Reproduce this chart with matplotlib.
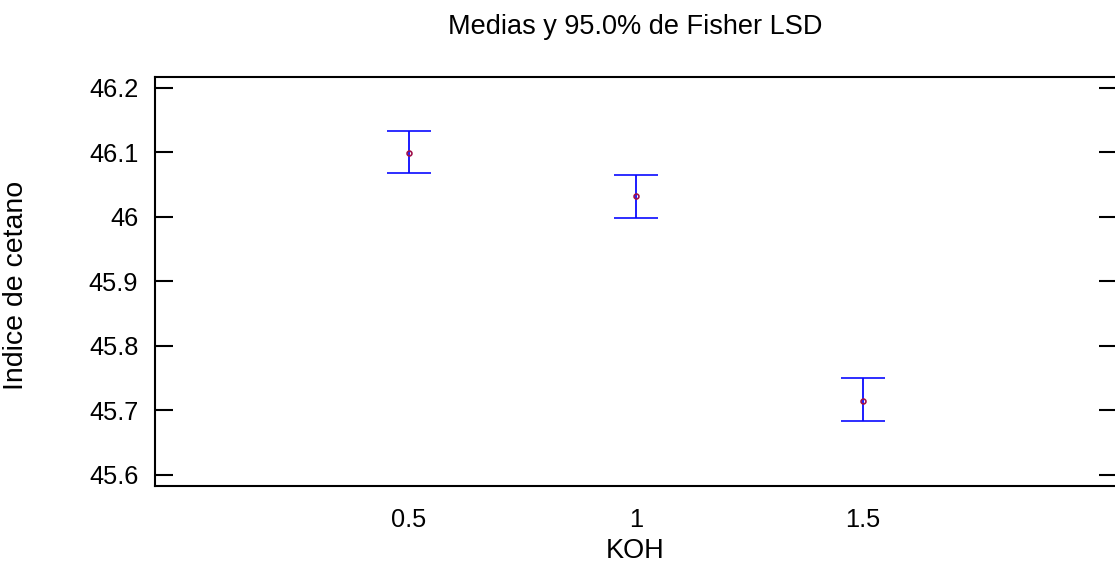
import matplotlib
matplotlib.use('Agg')
import matplotlib.pyplot as plt
import numpy as np

plt.rcParams['font.family'] = ['Liberation Sans', 'DejaVu Sans']

# data
koh = [0.5, 1.0, 1.5]
koh_labels = ['0.5', '1', '1.5']
medias = [46.099, 46.032, 45.715]
lsd_low = [46.067, 45.998, 45.683]
lsd_high = [46.133, 46.065, 45.750]
yticks = [45.6, 45.7, 45.8, 45.9, 46.0, 46.1, 46.2]
ytick_labels = ['45.6', '45.7', '45.8', '45.9', '46', '46.1', '46.2']

W, H = 1115, 563
fig = plt.figure(figsize=(W / 100, H / 100), dpi=100)
ax = fig.add_axes([155 / W, 1 - 486 / H, (1116.5 - 155) / W, (486 - 76.7) / H])

medias = np.array(medias)
err = [medias - np.array(lsd_low), np.array(lsd_high) - medias]
ax.errorbar(koh, medias, yerr=err, fmt='o', color='#0a0aff',
            ecolor='#0a0aff', elinewidth=1.3, capsize=16, capthick=1.8,
            markersize=3.5, mfc='none', mec='#a0104a', mew=1.2)

ax.set_xlim(-0.06, 2.06)
ax.set_ylim(45.5825, 46.217)
ax.set_xticks(koh)
ax.set_xticklabels(koh_labels)
ax.set_yticks(yticks)
ax.set_yticklabels(ytick_labels)

for s in ax.spines.values():
    s.set_linewidth(1.5)
ax.tick_params(axis='y', direction='in', length=13, width=1.5,
               left=True, right=True, labelsize=18.3, pad=12)
ax.tick_params(axis='x', length=0, labelsize=18.3, pad=16)

fig.text(635.5 / W, 1 - 34 / H, 'Medias y 95.0% de Fisher LSD',
         ha='center', va='baseline', fontsize=19.5)
fig.text(635.5 / W, 1 - 558 / H, 'KOH', ha='center', va='baseline', fontsize=19.5)
fig.text(16.5 / W, 1 - 285 / H, 'Indice de cetano', rotation=90,
         ha='center', va='center', fontsize=20.5)

fig.savefig('out.png', dpi=100)
